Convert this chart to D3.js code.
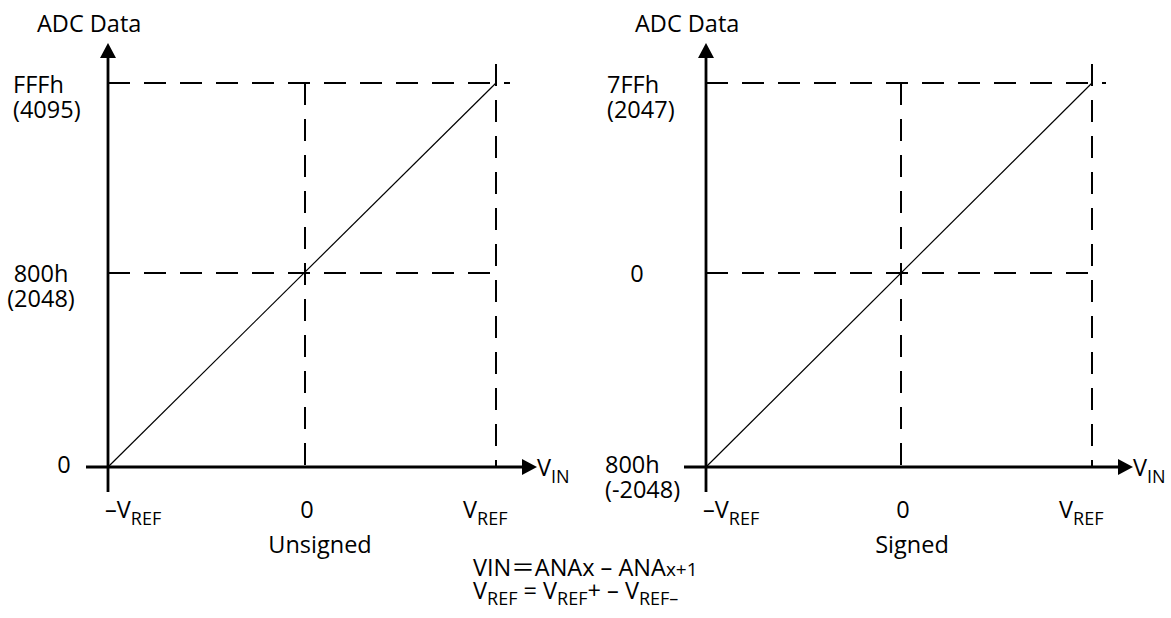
<!DOCTYPE html>
<html><head><meta charset="utf-8">
<script src="https://cdn.jsdelivr.net/npm/d3@7"></script>
<style>
html,body{margin:0;padding:0;background:#fff;}
svg text{font-family:"Open Sans","Noto Sans",sans-serif;fill:#000;}
</style>
</head><body>
<svg id="c" width="1171" height="618"></svg>
<script>
// ---- data ----
const xDomain = [-1, 0, 1];                       // -VREF, 0, VREF
const xTickLabels = [["–V", "REF"], ["0", ""], ["V", "REF"]];
const unsignedCodes = [0, 2048, 4095];
const unsignedLabels = [["0"], ["800h", "(2048)"], ["FFFh", "(4095)"]];
const signedCodes = [-2048, 0, 2047];
const signedLabels = [["800h", "(-2048)"], ["0"], ["7FFh", "(2047)"]];
const unsignedLine = [[-1, 0], [1, 4095]];
const signedLine = [[-1, -2048], [1, 2047]];
const titles = ["Unsigned", "Signed"];

const svg = d3.select("#c");
const FS = 23.5, SUB = 18;

function chart(opt) {
  const x = d3.scaleLinear().domain(xDomain).range(opt.xr);
  const y = d3.scaleLinear().domain(opt.codes).range([467, 273, 83]);
  const g = svg.append("g");
  const x0 = x(-1), y0 = y(opt.codes[0]);
  const xMid = x(0), xMax = x(1), yMid = y(opt.codes[1]), yMax = y(opt.codes[2]);

  // dashed guides
  const dash = "22,14";
  const dl = [
    [x0, yMax, xMax + 14, yMax],
    [x0, yMid, xMax, yMid],
    [xMid, yMax, xMid, y0],
    [xMax, yMax - 19, xMax, y0]
  ];
  g.selectAll("line.d").data(dl).join("line").attr("class", "d")
    .attr("x1", d => d[0]).attr("y1", d => d[1]).attr("x2", d => d[2]).attr("y2", d => d[3])
    .attr("stroke", "#000").attr("stroke-width", 2).attr("stroke-dasharray", dash);

  // transfer line
  g.append("path").datum(opt.line)
    .attr("d", d3.line().x(d => x(d[0])).y(d => y(d[1])))
    .attr("stroke", "#000").attr("stroke-width", 1.2).attr("fill", "none");

  // axes
  g.append("line").attr("x1", x0).attr("x2", x0).attr("y1", y0 + 25).attr("y2", 56)
    .attr("stroke", "#000").attr("stroke-width", 2.8);
  g.append("path").attr("d", `M${x0},43 L${x0 - 8},58 L${x0 + 8},58 Z`).attr("fill", "#000");
  g.append("line").attr("x1", x0 - 22).attr("x2", xMax + 28).attr("y1", y0).attr("y2", y0)
    .attr("stroke", "#000").attr("stroke-width", 2.8);
  g.append("path").attr("d", `M${xMax + 41},${y0} L${xMax + 26},${y0 - 8} L${xMax + 26},${y0 + 8} Z`).attr("fill", "#000");

  // axis titles
  g.append("text").attr("x", x0 - 71).attr("y", 32).attr("font-size", FS).text("ADC Data");
  const vin = g.append("text").attr("x", xMax + 41).attr("y", y0 + 9).attr("font-size", FS);
  vin.append("tspan").text("V");
  vin.append("tspan").attr("dy", 7).attr("font-size", SUB).text("IN");

  // y labels
  opt.codes.forEach((c, i) => {
    const lab = opt.labels[i];
    const p = opt.ypos[i];
    const t = g.append("text").attr("font-size", FS).attr("text-anchor", p.anchor);
    lab.forEach((s, k) => {
      t.append("tspan").attr("x", x0 + p.dx).attr("y", y(c) + p.dy + k * 25).text(s);
    });
  });

  // x labels
  const xpos = [{dx: -3, anchor: "start"}, {dx: 2, anchor: "middle"}, {dx: -33, anchor: "start"}];
  xDomain.forEach((v, i) => {
    const t = g.append("text").attr("font-size", FS).attr("text-anchor", xpos[i].anchor)
      .attr("x", x(v) + xpos[i].dx).attr("y", y0 + 51);
    t.append("tspan").text(xTickLabels[i][0]);
    if (xTickLabels[i][1]) t.append("tspan").attr("dy", 7).attr("font-size", SUB).text(xTickLabels[i][1]);
  });

  g.append("text").attr("x", opt.titleX).attr("y", 553).attr("font-size", FS)
    .attr("text-anchor", "middle").text(opt.title);
}

chart({
  xr: [108, 305, 496], codes: unsignedCodes, labels: unsignedLabels, line: unsignedLine,
  ypos: [{dx: -44, dy: 6, anchor: "middle"}, {dx: -67, dy: 9, anchor: "middle"}, {dx: -95, dy: 10, anchor: "start"}],
  title: titles[0], titleX: 320
});
chart({
  xr: [706, 901, 1092], codes: signedCodes, labels: signedLabels, line: signedLine,
  ypos: [{dx: -101, dy: 6, anchor: "start"}, {dx: -69, dy: 9, anchor: "middle"}, {dx: -99, dy: 10, anchor: "start"}],
  title: titles[1], titleX: 912
});

// formula
const f1 = svg.append("text").attr("x", 473).attr("y", 576).attr("font-size", FS);
f1.append("tspan").text("VIN");
f1.append("tspan").attr("font-family", "Noto Sans CJK JP").text("＝");
f1.append("tspan").text("ANAx – ANA");
f1.append("tspan").attr("font-size", 19).text("x+1");
const f2 = svg.append("text").attr("x", 473).attr("y", 599).attr("font-size", FS);
f2.append("tspan").text("V");
f2.append("tspan").attr("dy", 6).attr("font-size", SUB).text("REF");
f2.append("tspan").attr("dy", -6).text(" = V");
f2.append("tspan").attr("dy", 6).attr("font-size", SUB).text("REF");
f2.append("tspan").attr("dy", -6).text("+ –  V");
f2.append("tspan").attr("dy", 6).attr("font-size", SUB).text("REF–");
</script>
</body></html>
